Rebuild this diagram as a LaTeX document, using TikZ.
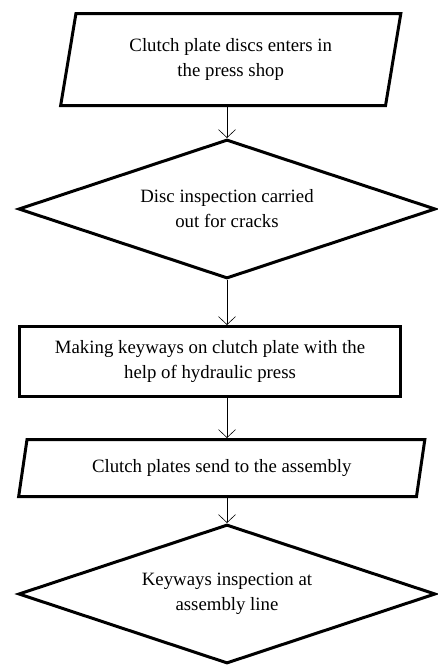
\documentclass[tikz,border=0pt]{standalone}
\usepackage{fontspec}
\setmainfont{Liberation Serif}
\usetikzlibrary{shapes.geometric,arrows.meta}

\tikzset{
  box/.style={draw=black, line width=3pt, align=center, inner sep=2pt,
    font=\fontsize{18.8}{25}\selectfont},
  io/.style={box, trapezium, trapezium stretches=true},
  decision/.style={box, diamond, shape aspect=3},
  process/.style={box, rectangle},
  flow/.style={-{Straight Barb[length=8pt,width=17pt]}, semithick}
}

\begin{document}
\begin{tikzpicture}[x=1pt,y=1pt]
    \useasboundingbox (0,0) rectangle (438,-667);

    \node[io, trapezium left angle=77.5, trapezium right angle=102.5,
          minimum width=341pt, minimum height=92pt] (enter) at (230.75,-59.5)
          {Clutch plate discs enters in\\the press shop};

    \node[decision, minimum width=417pt, minimum height=139pt] (crack) at (227,-209)
          {Disc inspection carried\\out for cracks};

    \node[process, minimum width=381pt, minimum height=70pt] (keyway) at (210,-361.5)
          {Making keyways on clutch plate with the\\help of hydraulic press};

    \node[io, trapezium left angle=75, trapezium right angle=105,
          minimum width=407pt, minimum height=57pt] (send) at (221.75,-468)
          {Clutch plates send to the assembly};

    \node[decision, minimum width=417pt, minimum height=139pt] (check) at (227,-594)
          {Keyways inspection at\\assembly line};

    % arrows
    \draw[flow] (enter.south -| crack.north) -- (crack.north);
    \draw[flow] (crack.south) -- (keyway.north -| crack.south);
    \draw[flow] (keyway.south -| crack.south) -- (send.north -| crack.south);
    \draw[flow] (send.south -| check.north) -- (check.north);

\end{tikzpicture}
\end{document}
